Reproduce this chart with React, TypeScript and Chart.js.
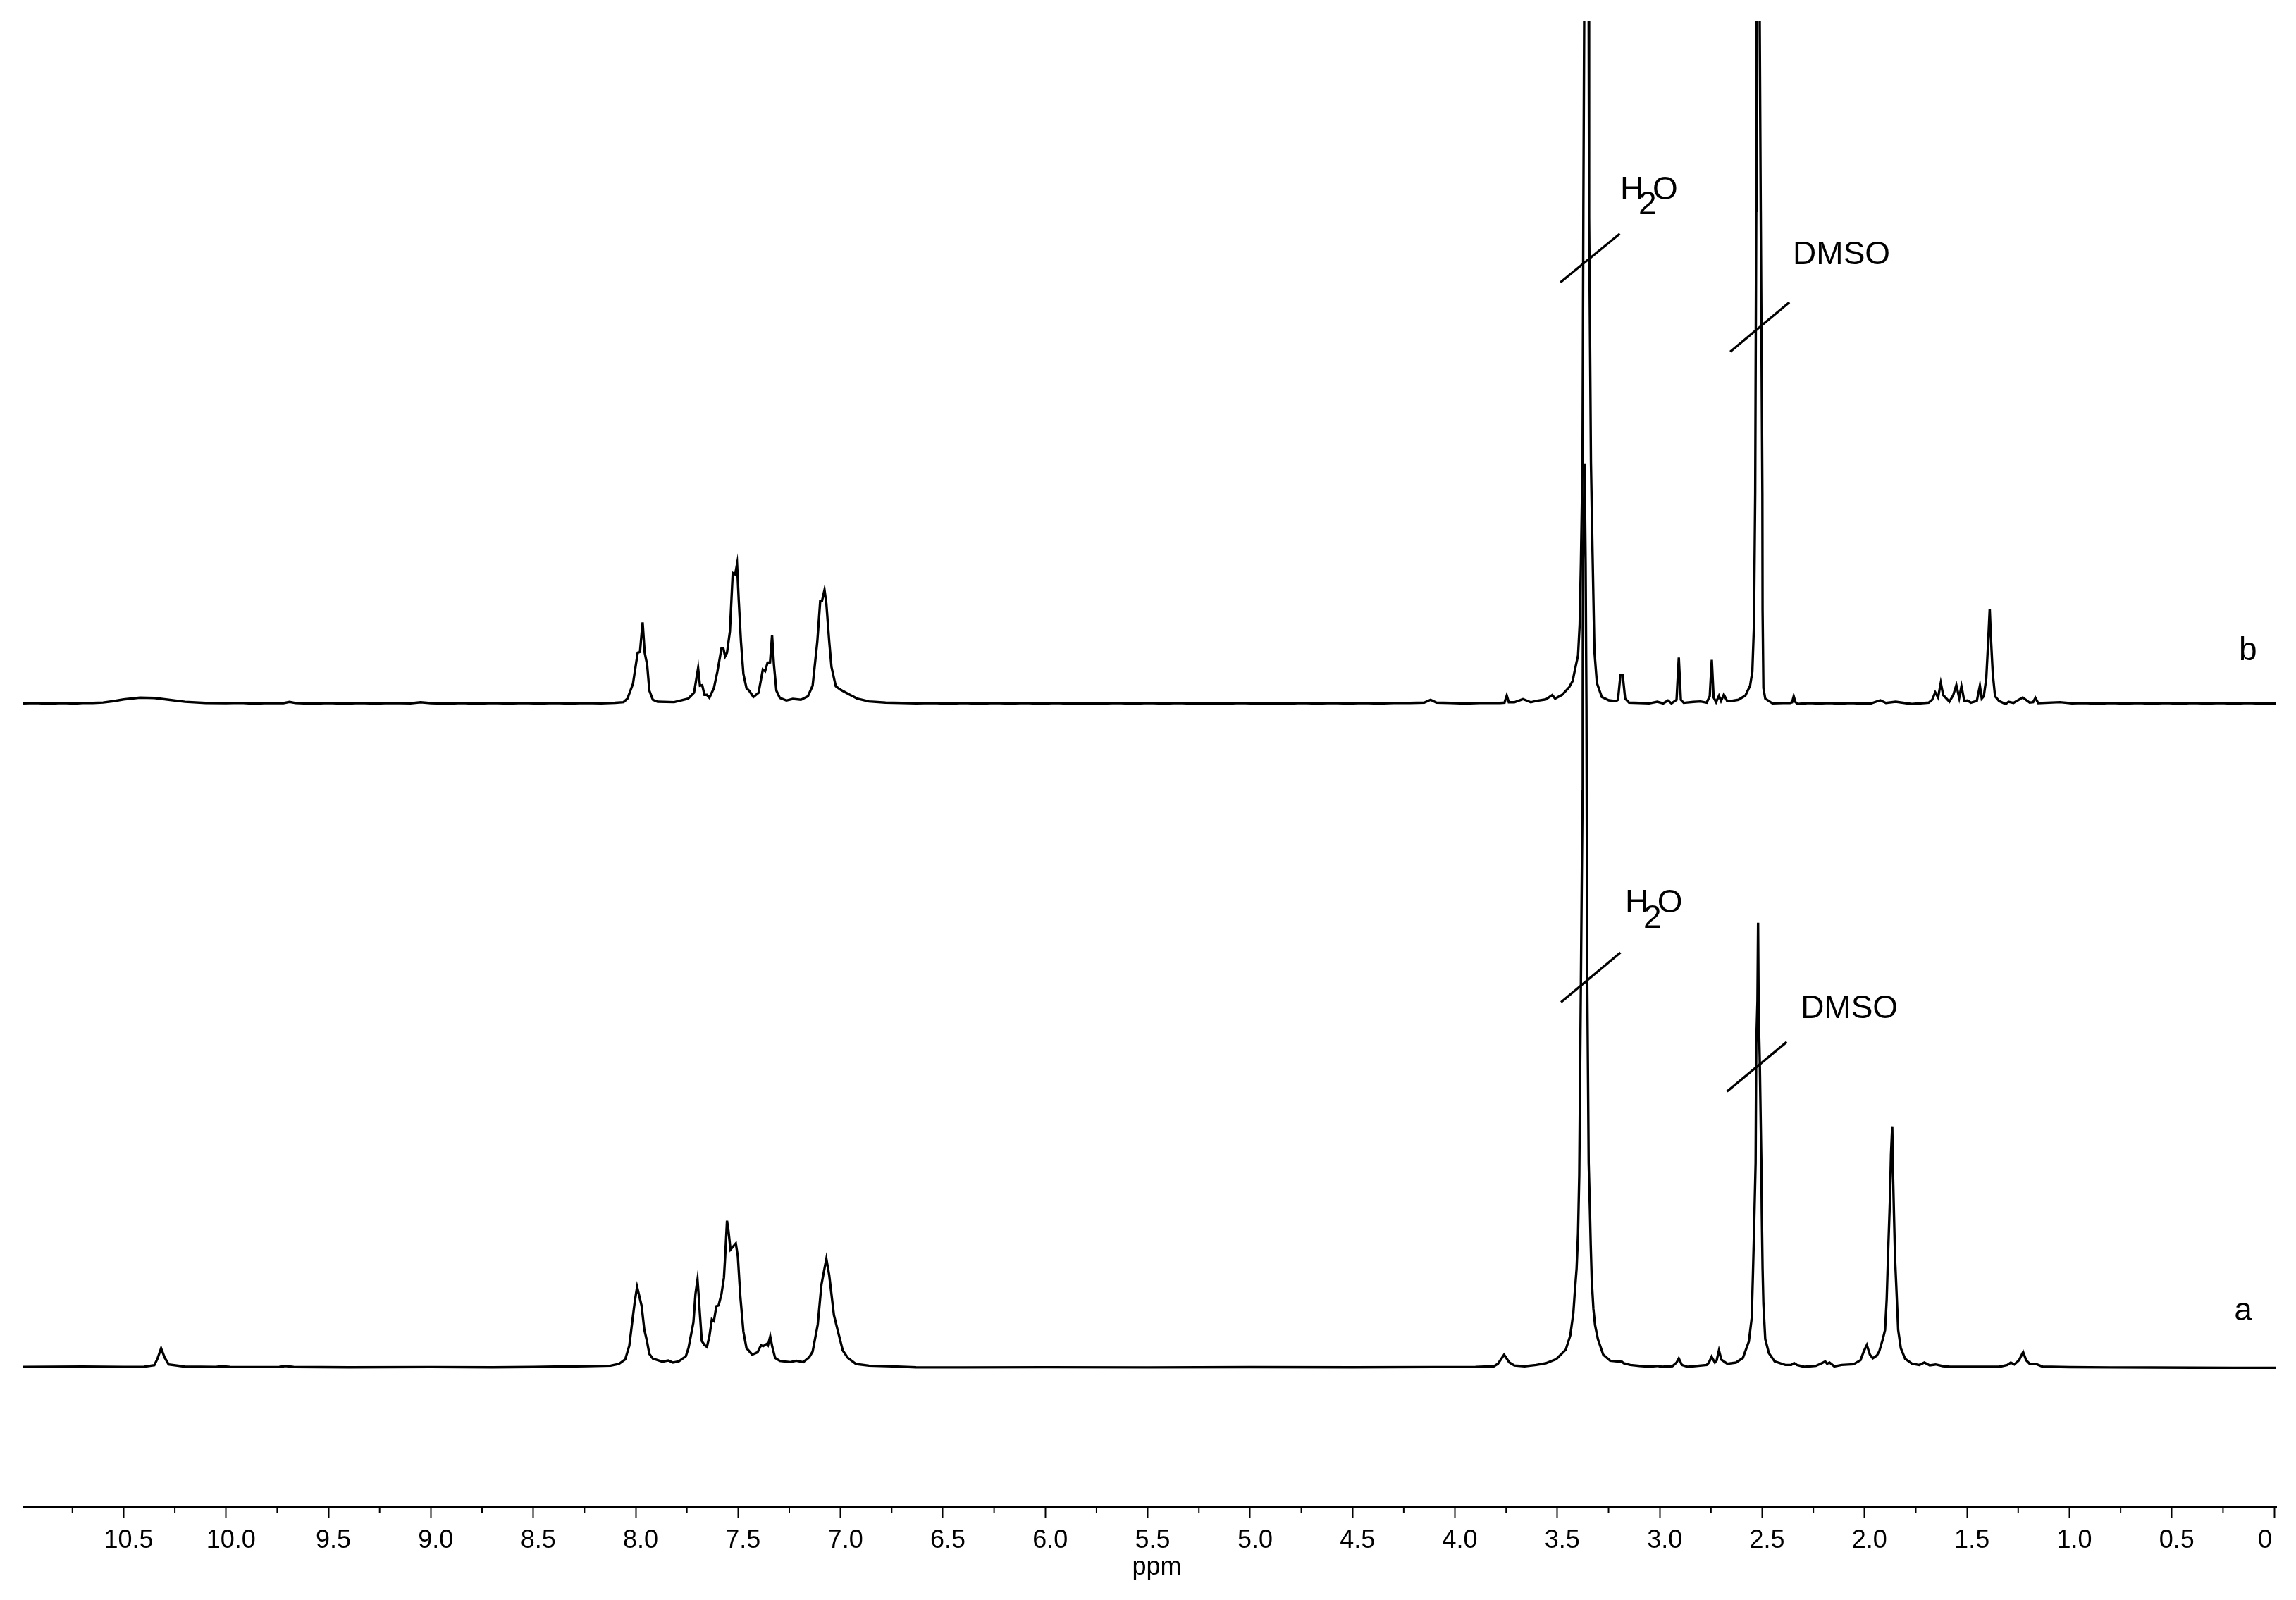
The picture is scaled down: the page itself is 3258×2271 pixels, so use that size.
import { useEffect, useRef } from "react"
import { Chart, registerables } from "chart.js"

Chart.register(...registerables)

// chemical shift (ppm), height above the spectrum's own baseline
const bDownfield = [
  [10.99, 0], [10.93, 0.6], [10.87, -0.4], [10.8, 0.5], [10.74, -0.2], [10.7, 0.5], [10.65, 0.6], [10.6, 1.2], [10.55, 3], [10.5, 5.5],
  [10.42, 8], [10.35, 7.5], [10.28, 5], [10.2, 2.2], [10.1, 0.6], [10.0, 0.2], [9.93, 0.7], [9.86, -0.4], [9.8, 0.5], [9.72, 0.3],
  [9.69, 2], [9.66, 0.4], [9.58, -0.4], [9.5, 0.4], [9.42, -0.4], [9.35, 0.5], [9.27, -0.3], [9.2, 0.4], [9.1, 0.1], [9.05, 1.5],
  [9.0, 0.3], [8.92, -0.4], [8.85, 0.5], [8.78, -0.4], [8.7, 0.4], [8.62, -0.3], [8.55, 0.5], [8.47, -0.3], [8.4, 0.4], [8.32, -0.2],
  [8.25, 0.5], [8.17, 0.1], [8.1, 0.8],
]
const bAromatic = [
  [8.059, 1.7], [8.04, 6.7], [8.013, 28], [7.99, 72], [7.979, 73], [7.966, 115], [7.956, 72], [7.944, 55],
  [7.933, 18], [7.916, 5], [7.893, 2.3], [7.812, 1.7], [7.744, 6.7], [7.715, 15], [7.695, 50], [7.686, 25],
  [7.675, 25.7], [7.664, 12], [7.652, 12], [7.64, 8], [7.618, 21.7], [7.601, 45], [7.581, 78], [7.572, 78],
  [7.563, 66.7], [7.554, 71.7], [7.54, 101.7], [7.526, 185], [7.514, 183], [7.505, 197.7], [7.497, 148],
  [7.486, 88], [7.474, 41.7], [7.459, 21.7], [7.446, 18], [7.425, 9], [7.4, 15], [7.379, 48], [7.368, 45.7],
  [7.356, 57.7], [7.344, 58], [7.334, 96.7], [7.325, 55], [7.313, 18], [7.296, 7.7], [7.264, 4], [7.233, 6.3],
  [7.193, 5], [7.159, 10], [7.136, 25], [7.113, 88], [7.099, 145], [7.09, 145.7], [7.078, 161], [7.069, 141.7],
  [7.055, 88], [7.044, 51.7], [7.023, 24.3], [6.998, 19], [6.952, 11.7], [6.918, 6.7], [6.861, 2.7], [6.78, 1], [6.7, 0.5], [6.631, 0],
]
const bMiddle = [
  [6.55, 0.5], [6.47, -0.4], [6.4, 0.5], [6.32, -0.4], [6.25, 0.4], [6.17, -0.3], [6.1, 0.5], [6.02, -0.4], [5.95, 0.4], [5.87, -0.5],
  [5.8, 0.3], [5.72, -0.2], [5.65, 0.5], [5.57, -0.4], [5.5, 0.4], [5.42, -0.3], [5.35, 0.5], [5.27, -0.4], [5.2, 0.3], [5.12, -0.4],
  [5.05, 0.5], [4.97, -0.2], [4.9, 0.3], [4.82, -0.4], [4.75, 0.5], [4.67, -0.2], [4.6, 0.4], [4.52, -0.3], [4.45, 0.4], [4.37, -0.2],
  [4.3, 0.4], [4.22, 0.5], [4.15, 1], [4.119, 5], [4.09, 1], [4.02, 0.5], [3.95, -0.3], [3.88, 0.5],
  [3.78, 0.5], [3.758, 1], [3.747, 11], [3.737, 1.5], [3.71, 1.5], [3.668, 6], [3.63, 1.5],
]
const bWater = [
  [3.603, 3.5], [3.557, 5.5], [3.525, 11.7], [3.511, 6.7], [3.477, 12], [3.442, 23], [3.425, 32], [3.414, 48],
  [3.399, 68], [3.391, 112], [3.385, 198], [3.377, 342], [3.373, 699], [3.369, 969], [3.359, 1130], [3.347, 969],
  [3.345, 690], [3.34, 499], [3.336, 342], [3.328, 211], [3.319, 74], [3.307, 29], [3.283, 9], [3.249, 4.3],
  [3.214, 3], [3.204, 5], [3.192, 40], [3.181, 40], [3.169, 6.7], [3.15, 1],
]
const bDmso = [
  [3.1, 0.6], [3.052, 0], [3.012, 2.3], [2.983, 0], [2.96, 4], [2.943, 0], [2.918, 5], [2.907, 65], [2.897, 5], [2.883, 0.7],
  [2.836, 2], [2.801, 2.7], [2.771, 1], [2.756, 10], [2.746, 61.7], [2.737, 8.3], [2.725, 1.7], [2.711, 10.7],
  [2.701, 3.3], [2.687, 12.3], [2.671, 3.3], [2.651, 3.3], [2.616, 5], [2.582, 11], [2.559, 25], [2.548, 45],
  [2.54, 111.7], [2.534, 298], [2.529, 699], [2.528, 969], [2.52, 1130], [2.512, 969], [2.507, 699], [2.503, 499],
  [2.499, 298], [2.498, 132], [2.494, 21.7], [2.485, 6.7], [2.45, 0], [2.398, 0.6], [2.364, 0.6], [2.354, 1.5],
  [2.346, 10], [2.338, 2], [2.327, -1], [2.27, 0.5], [2.226, -0.3], [2.17, 0.5], [2.123, -0.4], [2.07, 0.5], [2.02, -0.3], [1.968, 0],
]
const bUpfield = [
  [1.923, 4.3], [1.896, 0.6], [1.848, 2.3], [1.769, -1], [1.687, 1], [1.67, 5], [1.655, 15.7], [1.641, 8.3],
  [1.628, 29], [1.616, 11.7], [1.586, 2.3], [1.567, 11.7], [1.552, 26], [1.538, 7.7], [1.527, 24.3], [1.513, 3.3],
  [1.498, 4], [1.481, 1], [1.452, 3.3], [1.437, 25], [1.428, 6.7], [1.418, 10], [1.406, 35], [1.397, 85],
  [1.389, 134.3], [1.383, 91.7], [1.374, 41.7], [1.363, 10], [1.343, 3.3], [1.311, -1], [1.297, 2.3], [1.273, 0.7],
  [1.228, 8.3], [1.194, 1], [1.177, 1.7], [1.166, 7.7], [1.152, 0.3], [1.046, 1.7], [0.988, 0], [0.93, 0.6],
  [0.86, -0.4], [0.8, 0.5], [0.73, -0.3], [0.66, 0.5], [0.6, -0.4], [0.53, 0.4], [0.46, -0.4], [0.4, 0.4], [0.33, -0.3], [0.26, 0.4],
  [0.2, -0.4], [0.13, 0.4], [0.07, -0.3], [0, 0.2], [-0.008, 0],
]

const aDownfield = [
  [10.99, 0.6], [10.7, 0.9], [10.5, 0.5], [10.4, 0.8], [10.35, 3], [10.335, 12], [10.317, 27], [10.3, 14], [10.28, 4],
  [10.2, 1], [10.05, 0.6], [10.02, 1.6], [9.98, 0.6], [9.8, 0.3], [9.74, 0.4], [9.71, 1.8], [9.67, 0.4], [9.4, 0],
  [9.0, 0.3], [8.7, 0], [8.5, 0.4],
]
const aAromatic = [
  [8.237, 1.7], [8.122, 2.3], [8.082, 4.7], [8.051, 11.3], [8.031, 30.7], [8.017, 64], [8.004, 94], [7.993, 114],
  [7.982, 100.7], [7.971, 87.3], [7.958, 54], [7.945, 37.3], [7.933, 19], [7.916, 12.3], [7.87, 8], [7.841, 9.7],
  [7.818, 6.7], [7.79, 8.3], [7.755, 15.7], [7.742, 27.3], [7.718, 64], [7.708, 104], [7.698, 124.7], [7.692, 100.7],
  [7.686, 74], [7.677, 37.3], [7.664, 31.7], [7.652, 29], [7.64, 44], [7.628, 68], [7.618, 65.7], [7.606, 86.7],
  [7.595, 88], [7.581, 104], [7.569, 127.3], [7.563, 157], [7.554, 208], [7.547, 194], [7.537, 167], [7.511, 175.7],
  [7.501, 157], [7.489, 100.7], [7.474, 50.7], [7.459, 27.3], [7.431, 18], [7.405, 21.3], [7.388, 31.3], [7.377, 30],
  [7.36, 33.3], [7.354, 31.3], [7.343, 44], [7.333, 29], [7.319, 13.3], [7.296, 9], [7.245, 7.3], [7.216, 9.3],
  [7.182, 7.3], [7.153, 14], [7.136, 22.3], [7.111, 60.7], [7.093, 117.3], [7.069, 154], [7.055, 130.7], [7.032, 74],
  [7.015, 54], [6.989, 24], [6.964, 13.3], [6.924, 4.7], [6.861, 2.3], [6.746, 1.3], [6.631, 0],
]
const aMiddle = [
  [6.4, -0.2], [6.0, 0.1], [5.5, -0.2], [5.0, 0.2], [4.5, -0.1], [4.1, 0.3], [3.9, 0.6], [3.81, 1.5], [3.79, 5],
  [3.76, 18], [3.735, 7], [3.71, 2.5], [3.66, 1.5],
]
const aWater = [
  [3.603, 3.3], [3.557, 5.7], [3.505, 11.7], [3.459, 25], [3.437, 45], [3.422, 76.7], [3.414, 110], [3.406, 140],
  [3.399, 190], [3.393, 273], [3.385, 548], [3.377, 818], [3.376, 940], [3.375, 1140], [3.367, 1283], [3.362, 1140],
  [3.358, 940], [3.354, 548], [3.347, 290], [3.341, 223], [3.337, 173], [3.332, 123], [3.324, 83], [3.316, 60],
  [3.302, 40], [3.276, 18], [3.242, 9.3], [3.184, 7.7], [3.176, 5.7], [3.144, 3.3], [3.098, 2], [3.052, 1],
  [3.012, 2], [2.989, 0.7], [2.938, 1.7], [2.918, 6.7], [2.907, 12.7], [2.892, 3.3], [2.863, 0.7],
]
const aDmso = [
  [2.771, 3.3], [2.76, 6.7], [2.747, 15], [2.731, 6.7], [2.722, 10], [2.711, 24], [2.699, 10.7], [2.67, 5],
  [2.628, 6.7], [2.594, 13.3], [2.565, 36.7], [2.551, 70], [2.545, 133], [2.54, 190], [2.532, 290], [2.529, 456],
  [2.523, 520], [2.52, 631], [2.517, 500], [2.512, 440], [2.504, 290], [2.502, 223], [2.498, 140], [2.494, 90],
  [2.485, 40], [2.467, 20], [2.439, 8.3], [2.387, 3.3], [2.358, 3.3], [2.344, 6], [2.33, 3.3], [2.295, 0.7],
  [2.238, 2], [2.215, 5], [2.192, 8.3], [2.183, 5], [2.171, 6.7], [2.148, 1.3], [2.112, 3.3], [2.054, 4.3],
]
const aUpfield = [
  [2.02, 10], [2.003, 23.3], [1.989, 31.7], [1.974, 18], [1.96, 12.7], [1.94, 16.7], [1.928, 23], [1.911, 40],
  [1.9, 53], [1.892, 97], [1.885, 163], [1.876, 240], [1.871, 303], [1.865, 342], [1.861, 273], [1.857, 223],
  [1.851, 153], [1.844, 107], [1.836, 53], [1.823, 27], [1.802, 12], [1.768, 5], [1.733, 3.3], [1.708, 6.7],
  [1.682, 2.7], [1.653, 4], [1.618, 1.7], [1.584, 0.7], [1.343, 0.7], [1.303, 3.3], [1.286, 6.7], [1.269, 4],
  [1.246, 10], [1.226, 21.7], [1.211, 10], [1.194, 5], [1.166, 5], [1.131, 1], [1.0, 0.2], [0.8, -0.2], [0.6, -0.3],
  [0.4, -0.6], [0.2, -0.7], [-0.008, -0.7],
]

const spectrumB = [...bDownfield, ...bAromatic, ...bMiddle, ...bWater, ...bDmso, ...bUpfield]
const spectrumA = [...aDownfield, ...aAromatic, ...aMiddle, ...aWater, ...aDmso, ...aUpfield]

// vertical stacking of the two traces on the shared intensity axis
const baselineA = 197.3
const baselineB = 1139.7

const tickLabels = ["10.5", "10.0", "9.5", "9.0", "8.5", "8.0", "7.5", "7.0", "6.5", "6.0", "5.5", "5.0", "4.5", "4.0", "3.5", "3.0", "2.5", "2.0", "1.5", "1.0", "0.5", "0"]
const minorTicks = [10.75, 10.25, 9.75, 9.25, 8.75, 8.25, 7.75, 7.25, 6.75, 6.25, 5.75, 5.25, 4.75, 4.25, 3.75, 3.25, 2.75, 2.25, 1.75, 1.25, 0.75, 0.25]

// slanted marks across the solvent peaks: [ppm, intensity] for both ends
const leaderLines = [
  [[3.485, 1737.2], [3.195, 1806.2]],
  [[2.656, 1638.7], [2.367, 1709]],
  [[3.482, 715.5], [3.192, 786]],
  [[2.672, 588.7], [2.38, 659.1]],
]

// text, ppm of its left edge, intensity of its baseline
const peakNotes: [string, number, number][] = [
  ["H", 3.193, 1855.5],
  ["2", 3.104, 1834.5],
  ["O", 3.035, 1855],
  ["DMSO", 2.35, 1763.5],
  ["H", 3.169, 843],
  ["2", 3.08, 821.4],
  ["O", 3.012, 843],
  ["DMSO", 2.312, 693],
  ["b", 0.172, 1201.3],
  ["a", 0.196, 264],
]

const toPoints = (pairs: number[][], baseline: number) => pairs.map(([x, h]) => ({ x, y: h + baseline }))

const notesAndTicks = {
  id: "notesAndTicks",
  afterDraw(chart: any) {
    const { ctx, scales, chartArea } = chart
    ctx.save()
    ctx.strokeStyle = "#000"
    ctx.lineWidth = 2
    minorTicks.forEach((v) => {
      const px = scales.x.getPixelForValue(v)
      ctx.beginPath()
      ctx.moveTo(px, chartArea.bottom)
      ctx.lineTo(px, chartArea.bottom + 9)
      ctx.stroke()
    })
    ctx.fillStyle = "#000"
    ctx.font = '46px "Liberation Sans"'
    ctx.textAlign = "left"
    ctx.textBaseline = "alphabetic"
    peakNotes.forEach(([text, ppm, value]) => {
      ctx.fillText(text, scales.x.getPixelForValue(ppm), scales.y.getPixelForValue(value))
    })
    ctx.restore()
  },
}

export default function App() {
  const canvasRef = useRef<HTMLCanvasElement>(null)

  useEffect(() => {
    if (!canvasRef.current) return
    document.body.style.margin = "0"

    const line = { borderColor: "#000", pointRadius: 0, tension: 0, fill: false }
    const chart = new Chart(canvasRef.current, {
      type: "line",
      data: {
        datasets: [
          { label: "b", data: toPoints(spectrumB, baselineB), borderWidth: 3.4, ...line },
          { label: "a", data: toPoints(spectrumA, baselineA), borderWidth: 3.4, ...line },
          ...leaderLines.map((ends, i) => ({
            label: `leader ${i}`,
            data: ends.map(([x, y]) => ({ x, y })),
            borderWidth: 3.4,
            ...line,
          })),
        ],
      },
      options: {
        animation: false,
        responsive: false,
        devicePixelRatio: 1,
        layout: { autoPadding: false, padding: { left: 33, right: 28, top: 30, bottom: 24 } },
        plugins: { legend: { display: false }, tooltip: { enabled: false } },
        scales: {
          x: {
            type: "linear",
            reverse: true,
            min: -0.01,
            max: 10.99,
            afterBuildTicks: (scale: any) => {
              scale.ticks = tickLabels.map((t) => ({ value: parseFloat(t) }))
            },
            afterFit: (scale: any) => {
              scale.height = 109
              // the wide "0" label must not pull the plot area in
              scale.paddingLeft = 0
              scale.paddingRight = 0
            },
            border: { display: true, color: "#000", width: 3 },
            grid: { drawOnChartArea: false, drawTicks: true, tickLength: 17, tickColor: "#000", tickWidth: 2 },
            ticks: {
              autoSkip: false,
              maxRotation: 0,
              padding: 10,
              labelOffset: 7,
              color: "#000",
              font: { family: '"Liberation Sans"', size: 36 },
              callback: (value: any) => (value === 0 ? "0    " : Number(value).toFixed(1)),
            },
            title: {
              display: true,
              text: "  ppm",
              color: "#000",
              font: { family: '"Liberation Sans"', size: 36 },
              padding: { top: 0, bottom: 0 },
            },
          },
          y: { display: false, min: 0, max: 2108 },
        },
      },
      plugins: [notesAndTicks],
    } as any)

    return () => chart.destroy()
  }, [])

  return <canvas ref={canvasRef} width={3258} height={2271} style={{ display: "block" }}></canvas>
}
